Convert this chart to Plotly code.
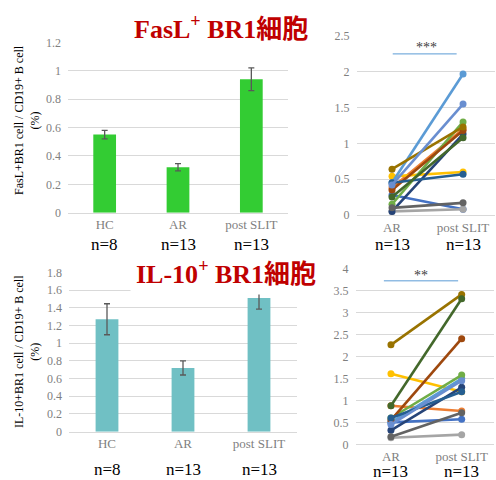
import plotly.graph_objects as go

# ---------------- data ----------------
bar_cats = ["HC", "AR", "post SLIT"]
bar_n = ["n=8", "n=13", "n=13"]

fasl_means = [0.55, 0.32, 0.94]
fasl_err = [0.03, 0.025, 0.08]

il10_means = [1.27, 0.72, 1.51]
il10_err = [0.175, 0.08, 0.125]

pair_cats = ["AR", "post SLIT"]
pair_n = ["n=13", "n=13"]

series_colors = ["#4472C4", "#ED7D31", "#A5A5A5", "#FFC000", "#5B9BD5", "#70AD47",
                 "#264478", "#9E480E", "#636363", "#997300", "#255E91", "#43682B", "#698ED0"]

fasl_ar = [0.28, 0.38, 0.05, 0.54, 0.45, 0.15, 0.05, 0.35, 0.10, 0.64, 0.45, 0.25, 0.42]
fasl_post = [0.08, 1.20, 0.08, 0.60, 1.97, 1.30, 1.13, 1.18, 0.17, 1.23, 0.57, 1.08, 1.55]

il10_ar = [0.50, 0.88, 0.15, 1.61, 0.50, 0.60, 0.32, 0.55, 0.17, 2.27, 0.60, 0.88, 0.45]
il10_post = [0.57, 0.76, 0.22, 1.20, 1.50, 1.58, 1.30, 2.41, 0.72, 3.42, 1.20, 3.32, 1.45]

fasl_sig = "***"
il10_sig = "**"

titles = ["FasL<sup>+</sup> BR1細胞", "IL-10<sup>+</sup> BR1細胞"]
ytitles = ["FasL+BR1 cell / CD19+ B cell<br>(%)", "IL-10+BR1 cell / CD19+ B cell<br>(%)"]

# ---------------- styling ----------------
W, H = 496, 480
SERIF = "Liberation Serif, Times New Roman, serif"
TICKC = "#7F7F7F"
GRID = "#D9D9D9"

def px(x):
    return x / W

def py(y):
    return 1 - y / H

fig = go.Figure()

# bar charts
fig.add_trace(go.Bar(x=bar_cats, y=fasl_means, width=0.31, marker=dict(color="#33CC33", line=dict(width=0)),
                     error_y=dict(type="data", array=fasl_err, color="#595959", thickness=1.3, width=3),
                     xaxis="x", yaxis="y", showlegend=False))
fig.add_trace(go.Bar(x=bar_cats, y=il10_means, width=0.30, marker=dict(color="#70C0C4", line=dict(width=0)),
                     error_y=dict(type="data", array=il10_err, color="#595959", thickness=1.3, width=3),
                     xaxis="x3", yaxis="y3", showlegend=False))

# paired line charts
for i in range(len(fasl_ar)):
    fig.add_trace(go.Scatter(x=pair_cats, y=[fasl_ar[i], fasl_post[i]], mode="lines+markers",
                             line=dict(color=series_colors[i], width=2.6),
                             marker=dict(size=7, color=series_colors[i]),
                             xaxis="x2", yaxis="y2", showlegend=False, cliponaxis=False))
for i in range(len(il10_ar)):
    fig.add_trace(go.Scatter(x=pair_cats, y=[il10_ar[i], il10_post[i]], mode="lines+markers",
                             line=dict(color=series_colors[i], width=2.6),
                             marker=dict(size=7, color=series_colors[i]),
                             xaxis="x4", yaxis="y4", showlegend=False, cliponaxis=False))

tickfont = dict(family=SERIF, size=12, color=TICKC)
catfont = dict(family=SERIF, size=13, color=TICKC)

def yax(domain, rng, dtick, anchor):
    return dict(domain=domain, range=rng, dtick=dtick, anchor=anchor, showgrid=True, gridcolor=GRID,
                gridwidth=1, zeroline=False, showline=False, ticks="", tickfont=tickfont, ticklen=0,
                fixedrange=True, automargin=False, ticklabelstandoff=6)

def xax(domain, rng, anchor):
    return dict(domain=domain, range=rng, anchor=anchor, type="category", showline=True, linecolor=GRID,
                linewidth=1, ticks="", tickfont=catfont, showgrid=False, fixedrange=True, automargin=False)

fig.update_layout(
    width=W, height=H, margin=dict(l=0, r=0, t=0, b=0, autoexpand=False),
    paper_bgcolor="white", plot_bgcolor="white", bargap=0.5,
    xaxis=xax([px(68), px(288)], [-0.5, 2.5], "y"),
    yaxis=yax([py(212.7), py(42.3)], [0, 1.2], 0.2, "x"),
    xaxis2=xax([px(356.5), px(495)], [-0.5, 1.45], "y2"),
    yaxis2=yax([py(215), py(36)], [0, 2.5], 0.5, "x2"),
    xaxis3=xax([px(69), px(297)], [-0.5, 2.5], "y3"),
    yaxis3=yax([py(431.7), py(272.3)], [0, 1.8], 0.2, "x3"),
    xaxis4=xax([px(355.6), px(493.5)], [-0.5, 1.45], "y4"),
    yaxis4=yax([py(444.3), py(269)], [0, 4], 0.5, "x4"),
)

ann = []
# n= labels
nfont = dict(family=SERIF, size=17, color="black")
for c, n in zip(bar_cats, bar_n):
    ann.append(dict(x=c, y=py(245), xref="x", yref="paper", text=n, showarrow=False, font=nfont,
                    xanchor="center", yanchor="middle"))
    ann.append(dict(x=c, y=py(469), xref="x3", yref="paper", text=n, showarrow=False, font=nfont,
                    xanchor="center", yanchor="middle"))
for c, n in zip(pair_cats, pair_n):
    ann.append(dict(x=c, y=py(245), xref="x2", yref="paper", text=n, showarrow=False, font=nfont,
                    xanchor="center", yanchor="middle"))
    ann.append(dict(x=c, y=py(471), xref="x4", yref="paper", text=n, showarrow=False, font=nfont,
                    xanchor="center", yanchor="middle"))

# y-axis titles
for t, yc in zip(ytitles, [120, 352]):
    ann.append(dict(x=px(27), y=py(yc), xref="paper", yref="paper", text=t, textangle=-90,
                    xanchor="center", yanchor="middle",
                    showarrow=False, font=dict(family=SERIF, size=12, color="black")))

# significance
ann.append(dict(x=0.49, y=2.34, xref="x2", yref="y2", text=fasl_sig, showarrow=False,
                font=dict(family=SERIF, size=14, color="#404040")))
ann.append(dict(x=0.43, y=3.86, xref="x4", yref="y4", text=il10_sig, showarrow=False,
                font=dict(family=SERIF, size=14, color="#404040")))

# titles
tfont = dict(family="Liberation Serif, Noto Sans CJK JP, serif", size=26, color="#C00000")
ann.append(dict(x=px(221), y=py(27), xref="paper", yref="paper", text="<b>" + titles[0] + "</b>",
                showarrow=False, font=tfont, xanchor="center", yanchor="middle"))
ann.append(dict(x=px(226), y=py(272), xref="paper", yref="paper", text="<b>" + titles[1] + "</b>",
                showarrow=False, font=tfont, bgcolor="white", borderpad=5,
                xanchor="center", yanchor="middle"))

fig.update_layout(annotations=ann)

fig.add_shape(type="line", xref="x2", yref="y2", x0=0.01, x1=0.91, y0=2.25, y1=2.25,
              line=dict(color="#5B9BD5", width=1))
fig.add_shape(type="line", xref="x4", yref="y4", x0=-0.1, x1=0.95, y0=3.73, y1=3.73,
              line=dict(color="#5B9BD5", width=1))

fig.write_html("out.html", config={"displayModeBar": False},
               post_script="document.body.style.margin='0';document.body.style.overflow='hidden';")
